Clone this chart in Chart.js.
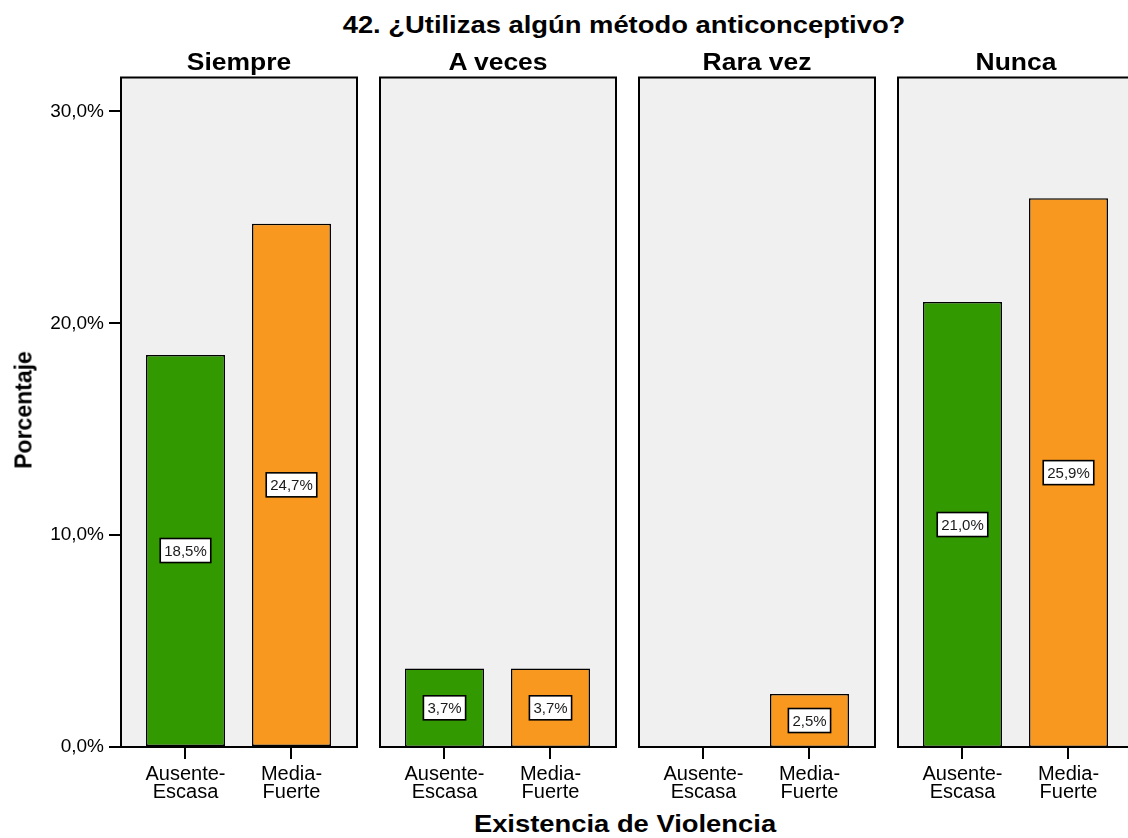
<!DOCTYPE html>
<html>
<head>
<meta charset="utf-8">
<script src="https://cdn.jsdelivr.net/npm/chart.js@4/dist/chart.umd.min.js"></script>
<style>
  html, body { margin:0; padding:0; background:#fff; width:1128px; height:838px; overflow:hidden; position:relative; }
  canvas { position:absolute; }
  .t { position:absolute; white-space:nowrap; font-family:"Liberation Sans", Arial, sans-serif; font-weight:bold; color:#000; line-height:1; }
</style>
</head>
<body>
<div id="root"></div>
<script>
// ---- data ----
const chartTitle = '42. ¿Utilizas algún método anticonceptivo?';
const xTitle = 'Existencia de Violencia';
const yTitle = 'Porcentaje';
const panels = ['Siempre', 'A veces', 'Rara vez', 'Nunca'];
const categories = [['Ausente-', 'Escasa'], ['Media-', 'Fuerte']];
const ausenteEscasa = [18.5, 3.7, null, 21.0];
const mediaFuerte = [24.7, 3.7, 2.5, 25.9];
const yTicks = [0, 10, 20, 30];
const yMax = 31.6;

// ---- style / layout ----
const GREEN = '#339900';
const ORANGE = '#F8981E';
const PANEL_BG = '#F0F0F0';
const panelLefts = [121, 380, 639, 898];
const panelW = 236;
const canvasTop = 70;
const canvasH = 737;
const padTop = 7.5;
const xAxisH = 60;
const yAxisW = 121;
const xMin = -0.6085, xMax = 1.618;
const fontFam = '"Liberation Sans", Arial, sans-serif';

const fmt = v => v.toFixed(1).replace('.', ',') + '%';

const panelPlugin = {
  id: 'panel',
  beforeDraw(chart) {
    const a = chart.chartArea, c = chart.ctx;
    c.save();
    c.fillStyle = PANEL_BG;
    c.fillRect(a.left, a.top, a.right - a.left, a.bottom - a.top);
    c.restore();
  },
  afterDraw(chart) {
    const a = chart.chartArea, c = chart.ctx;
    c.save();
    c.strokeStyle = '#000';
    c.lineWidth = 2;
    c.strokeRect(a.left, a.top, a.right - a.left, a.bottom - a.top);
    chart.data.datasets.forEach((ds, di) => {
      const meta = chart.getDatasetMeta(di);
      meta.data.forEach((el, i) => {
        const v = ds.data[i].y;
        if (v === null || v === undefined || v <= 0) return;
        const cx = el.x, cy = (el.y + el.base) / 2;
        const txt = fmt(v);
        c.font = '15px ' + fontFam;
        const w = c.measureText(txt).width + 8;
        const h = 24;
        c.fillStyle = '#fff';
        c.fillRect(cx - w / 2, cy - h / 2, w, h);
        c.lineWidth = 1.6;
        c.strokeStyle = '#000';
        c.strokeRect(cx - w / 2, cy - h / 2, w, h);
        c.fillStyle = '#1a1a1a';
        c.textAlign = 'center';
        c.textBaseline = 'middle';
        c.fillText(txt, cx, cy + 1);
      });
    });
    c.restore();
  }
};

const root = document.getElementById('root');

panels.forEach((p, i) => {
  const first = i === 0;
  const cv = document.createElement('canvas');
  const leftPad = first ? 0 : 4;
  const left = first ? 0 : panelLefts[i] - 4;
  const width = (first ? yAxisW : 4) + panelW + 4;
  cv.width = width; cv.height = canvasH;
  cv.style.left = left + 'px';
  cv.style.top = canvasTop + 'px';
  cv.style.width = width + 'px';
  cv.style.height = canvasH + 'px';
  root.appendChild(cv);

  const yScale = {
    display: first,
    min: 0, max: yMax,
    afterBuildTicks(s) { s.ticks = yTicks.map(v => ({ value: v })); },
    grid: { display: true, drawOnChartArea: false, drawTicks: true, tickLength: 12, color: '#000', lineWidth: 2 },
    border: { display: false },
    ticks: { color: '#000', padding: 5, callback: v => fmt(v),
             font: { family: fontFam, size: 19 } }
  };
  if (first) yScale.afterFit = s => { s.width = yAxisW; s.paddingTop = 0; s.paddingBottom = 0; };

  new Chart(cv.getContext('2d'), {
    type: 'bar',
    data: {
      datasets: [{
        data: [{ x: 0, y: ausenteEscasa[i] }, { x: 1, y: mediaFuerte[i] }],
        backgroundColor: [GREEN, ORANGE],
        borderColor: '#000',
        borderWidth: 1.5,
        borderSkipped: false,
        barPercentage: 0.745,
        categoryPercentage: 1.0
      }]
    },
    options: {
      responsive: false,
      animation: false,
      devicePixelRatio: 1,
      layout: { padding: { left: leftPad, right: 4, top: padTop, bottom: 0 } },
      plugins: { legend: { display: false }, tooltip: { enabled: false }, title: { display: false } },
      scales: {
        x: {
          type: 'linear',
          offset: false,
          min: xMin, max: xMax,
          afterBuildTicks(s) { s.ticks = categories.map((c, k) => ({ value: k })); },
          grid: { display: true, offset: false, drawOnChartArea: false, drawTicks: true, tickLength: 12, color: '#000', lineWidth: 2 },
          border: { display: false },
          ticks: { color: '#000', padding: 6, maxRotation: 0, autoSkip: false,
                   callback: v => categories[v],
                   font: { family: fontFam, size: 20, lineHeight: '18px' } },
          afterFit(s) { s.height = xAxisH; s.paddingLeft = 0; s.paddingRight = 0; }
        },
        y: yScale
      }
    },
    plugins: [panelPlugin]
  });

  const d = document.createElement('div');
  d.className = 't';
  d.textContent = p;
  d.style.fontSize = '23px';
  d.style.left = (panelLefts[i] + panelW / 2) + 'px';
  d.style.top = '62px';
  d.style.transform = 'translate(-50%, -50%) scaleX(1.15)';
  document.body.appendChild(d);
});

function addText(txt, x, y, size, tf) {
  const d = document.createElement('div');
  d.className = 't';
  d.textContent = txt;
  d.style.fontSize = size + 'px';
  d.style.left = x + 'px';
  d.style.top = y + 'px';
  d.style.transform = tf;
  document.body.appendChild(d);
}
addText(chartTitle, 624, 25, 23, 'translate(-50%, -50%) scaleX(1.19)');
addText(xTitle, 625, 824, 23, 'translate(-50%, -50%) scaleX(1.19)');
addText(yTitle, 24, 410, 23, 'translate(-50%, -50%) rotate(-90deg)');
</script>
</body>
</html>
